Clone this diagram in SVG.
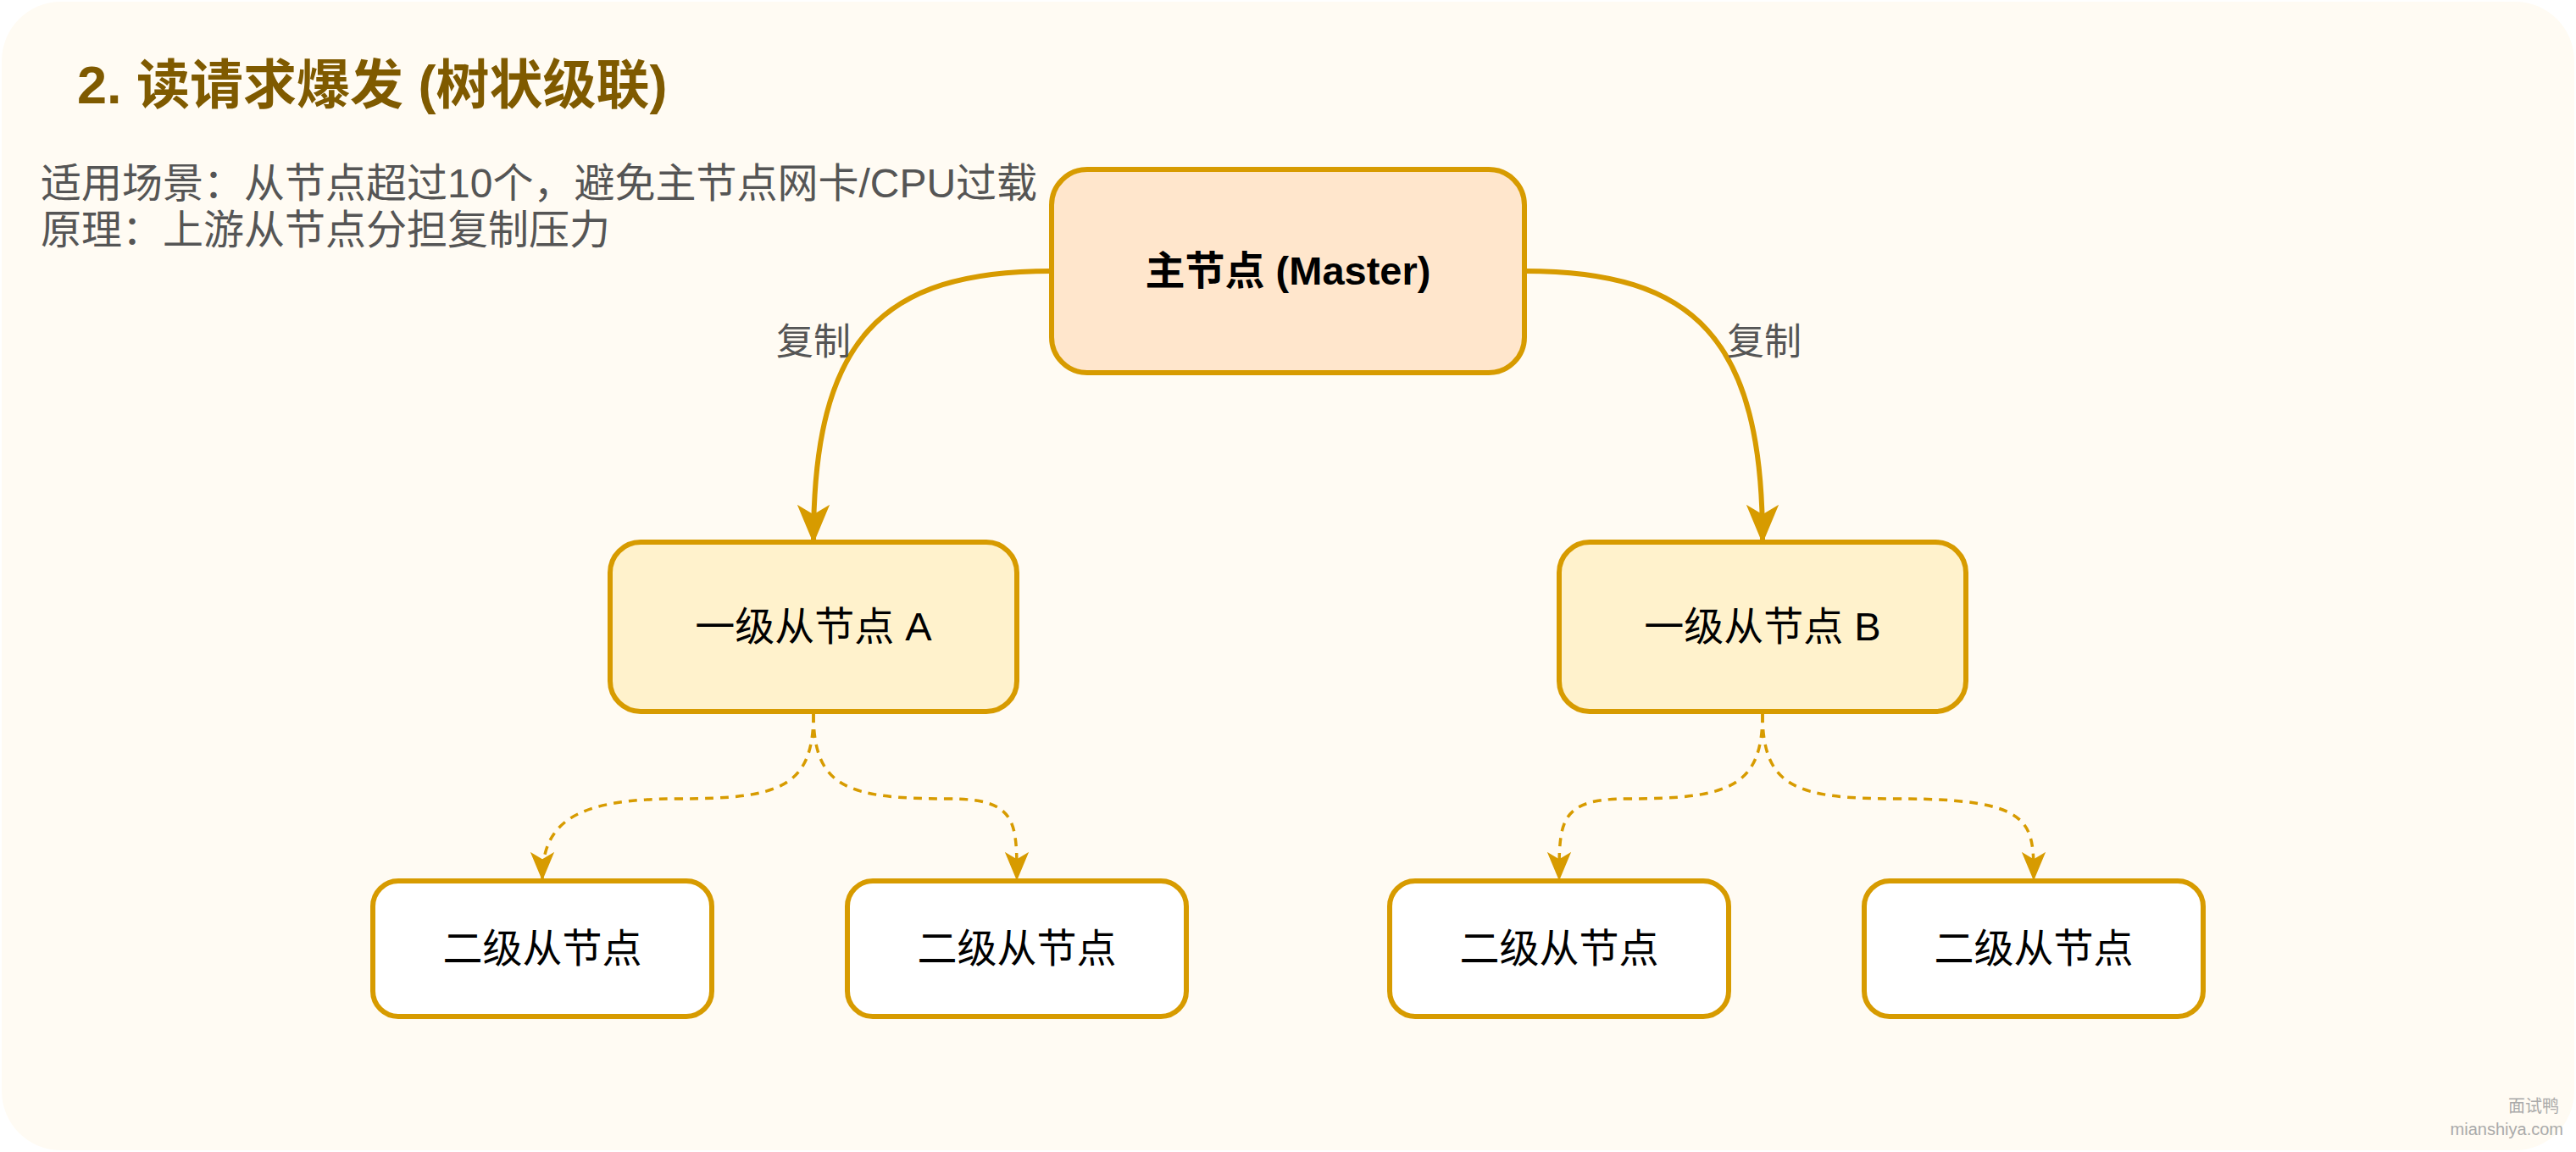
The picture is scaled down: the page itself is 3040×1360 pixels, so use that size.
<svg xmlns="http://www.w3.org/2000/svg" width="3040" height="1360" viewBox="0 0 3040 1360">
<style>
text{font-family:"Liberation Sans","Noto Sans CJK SC",sans-serif}
.box{stroke:#d79b00;stroke-width:6}
.lbl{font-size:47px;fill:#000;text-anchor:middle}
.e{fill:none;stroke:#d79b00}
</style>
<defs>
<marker id="a1" viewBox="0 0 12 12" refX="11" refY="6" markerWidth="46" markerHeight="46" markerUnits="userSpaceOnUse" orient="auto"><path d="M0,1 L12,6 L0,11 L3,6 Z" fill="#d79b00"/></marker>
<marker id="a2" viewBox="0 0 12 12" refX="11" refY="6" markerWidth="34" markerHeight="34" markerUnits="userSpaceOnUse" orient="auto"><path d="M0,1 L12,6 L0,11 L3,6 Z" fill="#d79b00"/></marker>
</defs>
<rect x="0" y="0" width="3040" height="1360" fill="#ffffff"/>
<rect x="2" y="2" width="3036" height="1356" rx="70" fill="#fffbf3"/>
<text x="91" y="122" font-size="63" font-weight="bold" fill="#7f5a00">2. 读请求爆发 (树状级联)</text>
<text x="48" y="233" font-size="48" fill="#555">适用场景：从节点超过10个，避免主节点网卡/CPU过载</text>
<text x="48" y="288" font-size="48" fill="#555">原理：上游从节点分担复制压力</text>
<g id="connectors">
<path class="e" stroke-width="6" d="M1241 320 C1040 320 960 400 960 638" marker-end="url(#a1)"/>
<path class="e" stroke-width="6" d="M1799 320 C2000 320 2080 400 2080 638" marker-end="url(#a1)"/>
<path class="e" stroke-width="3.5" stroke-dasharray="10 8" d="M960 843 C960 930 920 943 800 943 C680 943 640 970 640 1037" marker-end="url(#a2)"/>
<path class="e" stroke-width="3.5" stroke-dasharray="10 8" d="M960 843 C960 930 1000 943 1120 943 C1200 943 1200 970 1200 1037" marker-end="url(#a2)"/>
<path class="e" stroke-width="3.5" stroke-dasharray="10 8" d="M2080 843 C2080 930 2040 943 1920 943 C1840 943 1840 970 1840 1037" marker-end="url(#a2)"/>
<path class="e" stroke-width="3.5" stroke-dasharray="10 8" d="M2080 843 C2080 930 2120 943 2240 943 C2400 943 2400 970 2400 1037" marker-end="url(#a2)"/>
<text x="960" y="419" font-size="44" fill="#555" text-anchor="middle">复制</text>
<text x="2082" y="419" font-size="44" fill="#555" text-anchor="middle">复制</text>
</g>
<g id="master"><rect class="box" x="1241" y="200" width="558" height="240" rx="42" fill="#ffe6cc"/><text class="lbl" x="1520" y="336" font-weight="bold">主节点 (Master)</text></g>
<g id="slaveA"><rect class="box" x="720" y="640" width="480" height="200" rx="36" fill="#fff2cc"/><text class="lbl" x="960" y="756">一级从节点 A</text></g>
<g id="slaveB"><rect class="box" x="1840" y="640" width="480" height="200" rx="36" fill="#fff2cc"/><text class="lbl" x="2080" y="756">一级从节点 B</text></g>
<g id="s1"><rect class="box" x="440" y="1040" width="400" height="160" rx="30" fill="#fff"/><text class="lbl" x="640" y="1136">二级从节点</text></g>
<g id="s2"><rect class="box" x="1000" y="1040" width="400" height="160" rx="30" fill="#fff"/><text class="lbl" x="1200" y="1136">二级从节点</text></g>
<g id="s3"><rect class="box" x="1640" y="1040" width="400" height="160" rx="30" fill="#fff"/><text class="lbl" x="1840" y="1136">二级从节点</text></g>
<g id="s4"><rect class="box" x="2200" y="1040" width="400" height="160" rx="30" fill="#fff"/><text class="lbl" x="2400" y="1136">二级从节点</text></g>
<text x="3020" y="1313" font-size="20" fill="#aaa" text-anchor="end">面试鸭</text>
<text x="3025" y="1340" font-size="20" fill="#aaa" text-anchor="end">mianshiya.com</text>
</svg>
